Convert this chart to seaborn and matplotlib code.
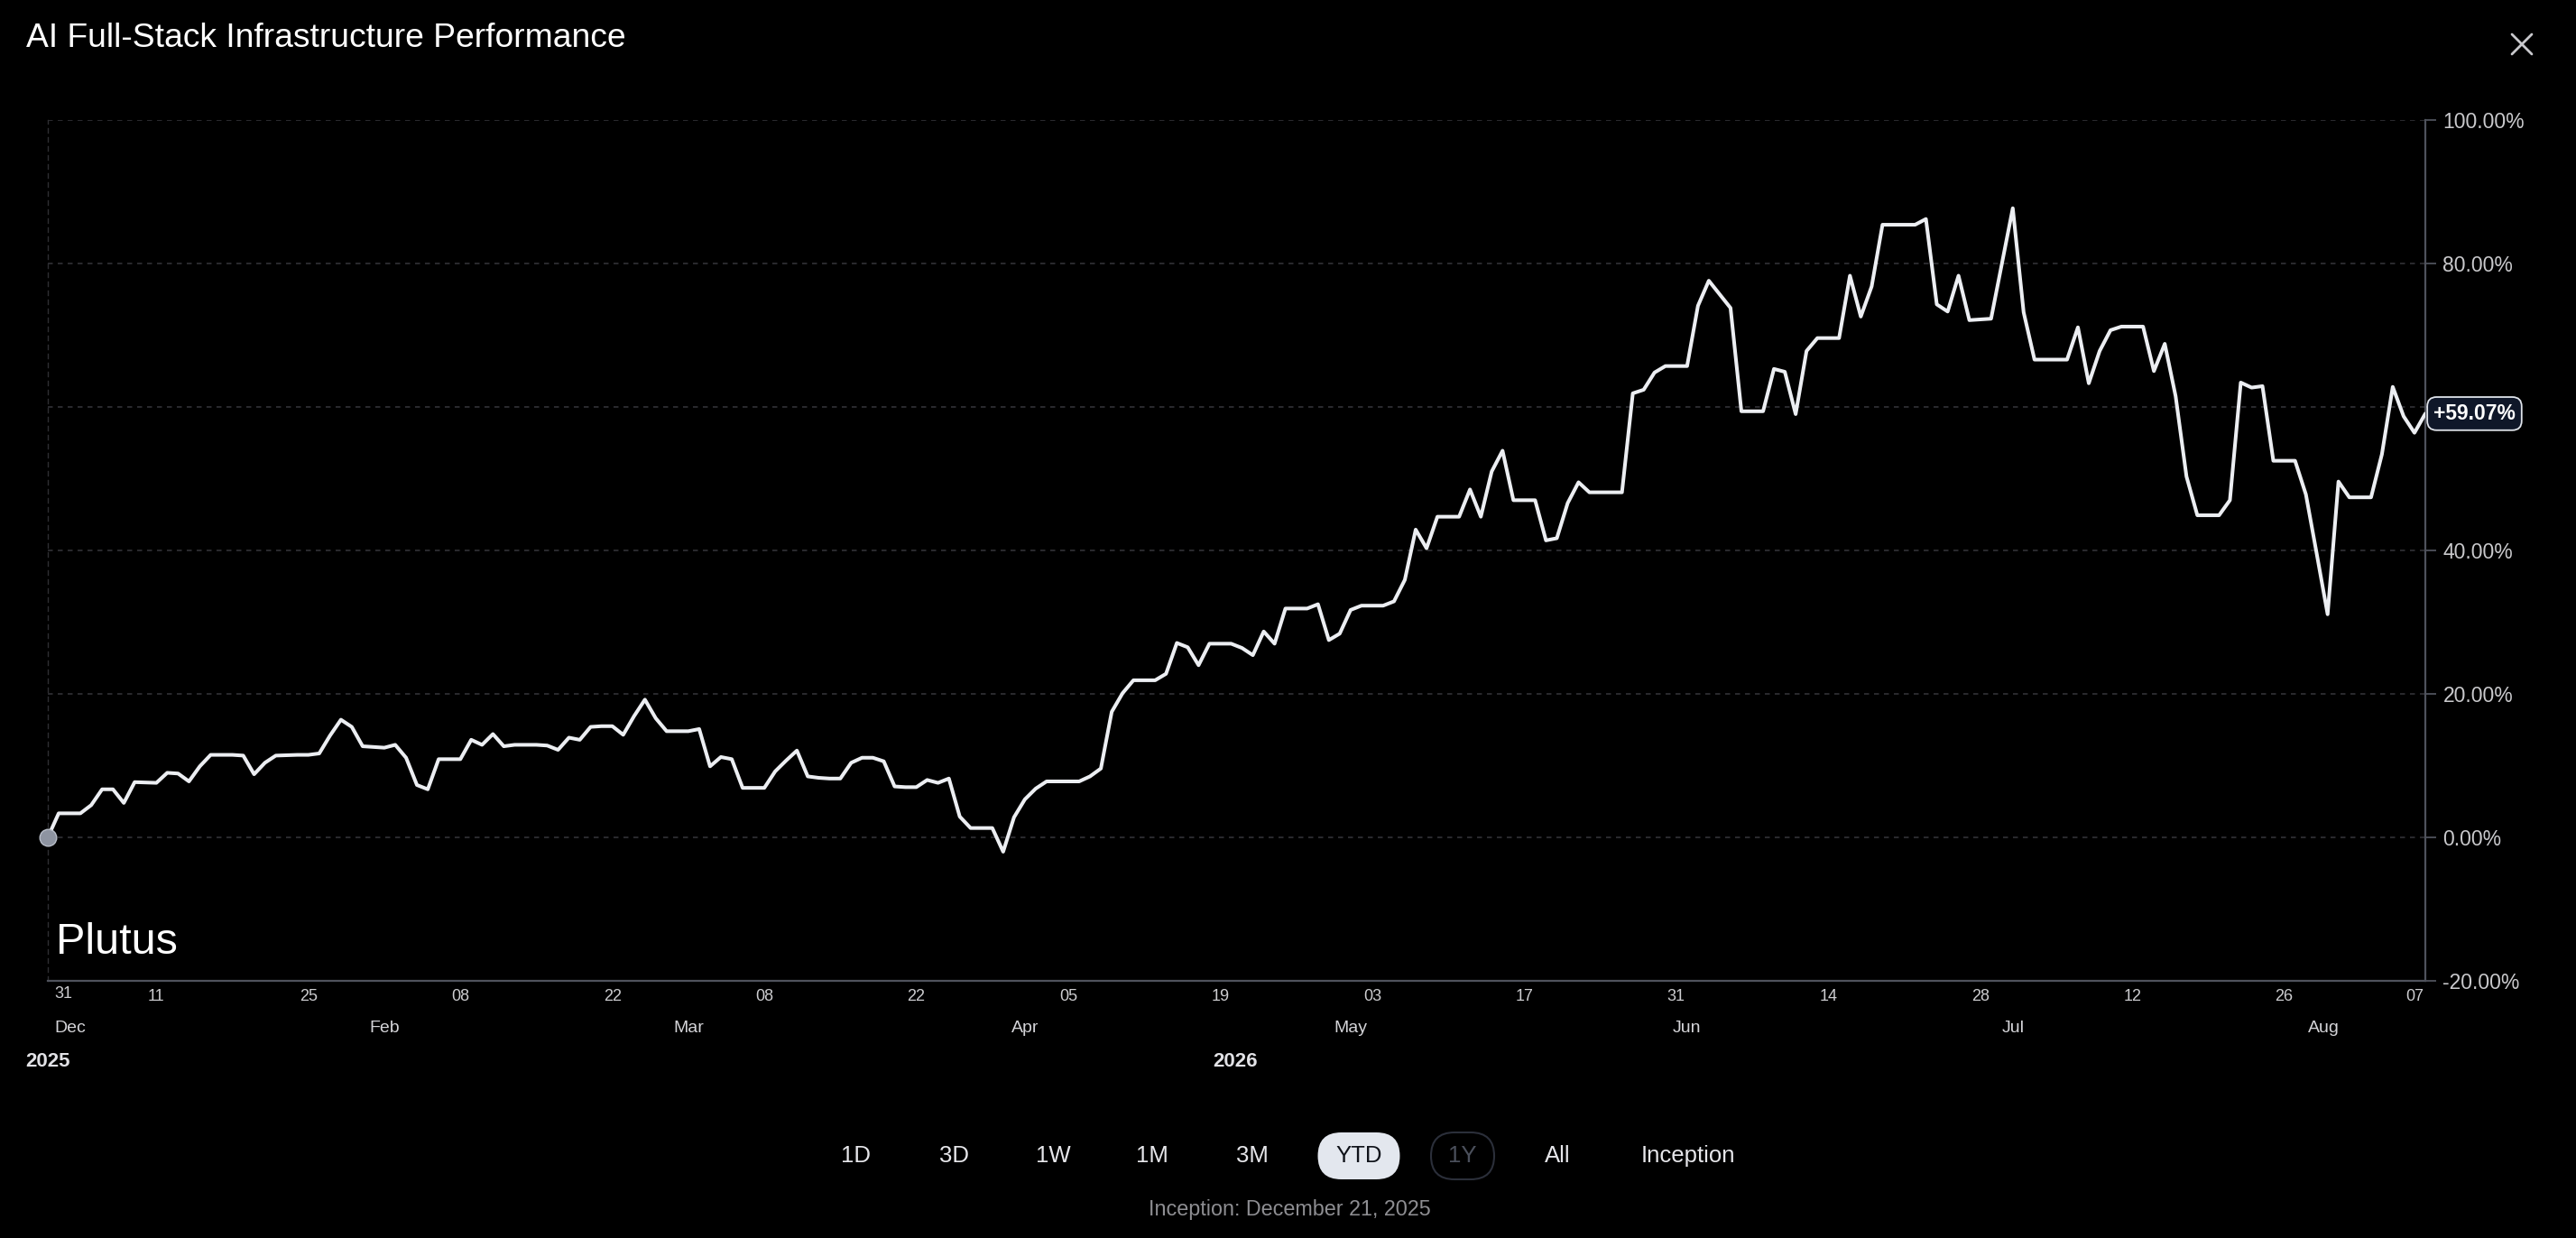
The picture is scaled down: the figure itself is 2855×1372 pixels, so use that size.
import numpy as np
import pandas as pd
import matplotlib
matplotlib.use("Agg")
import matplotlib.pyplot as plt
from matplotlib.patches import FancyBboxPatch
from matplotlib.lines import Line2D
from matplotlib.transforms import IdentityTransform
import seaborn as sns

# ---------------- data ----------------
title = "AI Full-Stack Infrastructure Performance"
start_date = "2026-01-01"
returns_pct = [
    0.0, 3.35, 3.35, 3.35, 4.5, 6.7, 6.7, 4.8, 7.7, 7.65,
    7.6, 9.0, 8.9, 7.8, 9.9, 11.5, 11.5, 11.5, 11.4, 8.8,
    10.4, 11.4, 11.45, 11.5, 11.5, 11.7, 14.2, 16.4, 15.4, 12.7,
    12.6, 12.5, 12.9, 11.1, 7.3, 6.7, 10.9, 10.9, 10.9, 13.6,
    12.9, 14.4, 12.7, 12.9, 12.9, 12.9, 12.8, 12.2, 13.9, 13.6,
    15.4, 15.5, 15.5, 14.3, 16.9, 19.2, 16.6, 14.8, 14.8, 14.8,
    15.1, 9.9, 11.2, 10.9, 6.9, 6.9, 6.9, 9.2, 10.7, 12.1,
    8.5, 8.3, 8.2, 8.2, 10.4, 11.1, 11.1, 10.6, 7.1, 7.0,
    7.0, 8.0, 7.6, 8.2, 2.9, 1.3, 1.3, 1.3, -2.0, 2.8,
    5.3, 6.8, 7.8, 7.8, 7.8, 7.8, 8.5, 9.6, 17.5, 20.1,
    21.9, 21.9, 21.9, 22.8, 27.1, 26.5, 24.0, 27.0, 27.0, 27.0,
    26.4, 25.4, 28.7, 27.0, 31.9, 31.9, 31.9, 32.5, 27.5, 28.4,
    31.7, 32.3, 32.3, 32.3, 32.9, 35.9, 42.9, 40.3, 44.7, 44.7,
    44.7, 48.5, 44.7, 51.0, 53.9, 47.0, 47.0, 47.0, 41.4, 41.7,
    46.6, 49.5, 48.1, 48.1, 48.1, 48.1, 61.9, 62.4, 64.8, 65.7,
    65.7, 65.7, 74.1, 77.6, 75.7, 73.8, 59.4, 59.4, 59.4, 65.3,
    64.9, 59.0, 67.8, 69.6, 69.6, 69.6, 78.3, 72.6, 76.8, 85.4,
    85.4, 85.4, 85.4, 86.2, 74.3, 73.3, 78.3, 72.1, 72.2, 72.3,
    80.0, 87.7, 73.2, 66.6, 66.6, 66.6, 66.6, 71.1, 63.3, 67.8,
    70.7, 71.2, 71.2, 71.2, 65.0, 68.8, 61.5, 50.3, 44.9, 44.9,
    44.9, 47.0, 63.4, 62.7, 62.9, 52.5, 52.5, 52.5, 47.8, 39.5,
    31.1, 49.6, 47.4, 47.4, 47.4, 53.4, 62.8, 58.7, 56.4, 59.07,
]
y_ticks = [-20, 0, 20, 40, 60, 80, 100]
hidden_y_tick = 60          # covered by the last-value badge in the original
day_tick_dates = ["2026-01-11", "2026-01-25", "2026-02-08", "2026-02-22",
                  "2026-03-08", "2026-03-22", "2026-04-05", "2026-04-19",
                  "2026-05-03", "2026-05-17", "2026-05-31", "2026-06-14",
                  "2026-06-28", "2026-07-12", "2026-07-26", "2026-08-07"]
day_tick_labels = ["11", "25", "08", "22", "08", "22", "05", "19",
                   "03", "17", "31", "14", "28", "12", "26", "07"]
first_day_label = "31"
first_month_label = "Dec"
month_dates = ["2026-02-01 00:00", "2026-03-01 00:00", "2026-04-01 00:00",
               "2026-05-01 00:00", "2026-06-01 00:00", "2026-07-01 00:00",
               "2026-07-29 15:00"]
month_labels = ["Feb", "Mar", "Apr", "May", "Jun", "Jul", "Aug"]
year_labels = ["2025", "2026"]
year2_date = "2026-04-20 10:00"
range_buttons = ["1D", "3D", "1W", "1M", "3M", "YTD", "1Y", "All", "Inception"]
active_button = "YTD"
disabled_button = "1Y"
last_value_label = "+59.07%"
footer = "Inception: December 21, 2025"
watermark = "Plutus"

# ---------------- style ----------------
W, H = 2855, 1372
sns.set_theme(style="dark", rc={"axes.facecolor": "black", "figure.facecolor": "black"})
plt.rcParams['font.family'] = ['Liberation Sans', 'DejaVu Sans']

fig = plt.figure(figsize=(W / 100, H / 100), dpi=100)
fig.patch.set_facecolor('black')
L, R, T, B = 53, 2688, 133, 1087
ax = fig.add_axes([L / W, 1 - B / H, (R - L) / W, (B - T) / H])
ax.set_facecolor('black')

df = pd.DataFrame({
    'date': pd.date_range(start_date, periods=len(returns_pct), freq='D'),
    'ret': returns_pct,
})

sns.lineplot(data=df, x='date', y='ret', ax=ax, color='#eceef2',
             linewidth=2.9, zorder=4)
ax.scatter([df['date'].iloc[0]], [df['ret'].iloc[0]], s=180, color='#8e94a1',
           edgecolors='#b9bec8', linewidths=1, zorder=6, clip_on=False)

ax.set_xlim(df['date'].iloc[0], df['date'].iloc[-1])
ax.set_ylim(y_ticks[0], y_ticks[-1])
ax.set_xlabel('')
ax.set_ylabel('')

# y axis on the right
ax.yaxis.tick_right()
ax.set_yticks(y_ticks)
ax.set_yticklabels(["" if v == hidden_y_tick else f"{v:.2f}%" for v in y_ticks])
ax.tick_params(axis='y', which='both', left=False, right=True, length=8.5,
               width=1.3, color='#4f525c', pad=5.5, labelsize=16.5,
               labelcolor='#c9c9cc')

# x ticks (day numbers)
ax.set_xticks(pd.to_datetime(day_tick_dates, format='ISO8601'))
ax.set_xticklabels(day_tick_labels)
ax.tick_params(axis='x', length=0, pad=6.5, labelsize=13, labelcolor='#cdcdd0')

ax.grid(False)
ax.grid(axis='y', color='#36363b', linestyle=(0, (3.6, 3.6)), linewidth=1.1)

ax.spines['top'].set_visible(False)
ax.spines['left'].set_visible(True)
ax.spines['left'].set_linestyle((0, (3.6, 3.6)))
ax.spines['left'].set_color('#2e2e33')
ax.spines['left'].set_linewidth(1.0)
for s in ['right', 'bottom']:
    ax.spines[s].set_visible(True)
    ax.spines[s].set_color('#4f525c')
    ax.spines[s].set_linewidth(1.6)

xt = ax.get_xaxis_transform()
# first day + month label at the left edge
ax.text(7 / (R - L), -0.0155, first_day_label, transform=ax.transAxes,
        ha='left', va='center', fontsize=13, color='#cdcdd0')
ax.text(7 / (R - L), -0.0555, first_month_label, transform=ax.transAxes,
        ha='left', va='center', fontsize=14, color='#d4d4d8')
for d, lab in zip(pd.to_datetime(month_dates, format='ISO8601'), month_labels):
    ax.text(d, -0.0555, lab, transform=xt, ha='center', va='center',
            fontsize=14, color='#d4d4d8')
ax.text(0, -0.094, year_labels[0], transform=ax.transAxes, ha='center',
        va='center', fontsize=16, fontweight='bold', color='#e2e2e6')
ax.text(pd.Timestamp(year2_date), -0.094, year_labels[1], transform=xt,
        ha='center', va='center', fontsize=16, fontweight='bold', color='#e2e2e6')

# last value badge
ax.annotate(last_value_label, xy=(df['date'].iloc[-1], df['ret'].iloc[-1]),
            xytext=(6.5, 0), textcoords='offset points', ha='left', va='center',
            fontsize=16.5, fontweight='bold', color='white', zorder=7,
            annotation_clip=False,
            bbox=dict(boxstyle='round,pad=0.3,rounding_size=0.45',
                      fc='#0f1729', ec='#dfe3ea', lw=1.3))

# title, watermark, close icon
fig.text(29 / W, 1 - 52 / H, title, fontsize=26.8, color='white',
         ha='left', va='baseline')
fig.text(62 / W, 1 - 1057 / H, watermark, fontsize=35, color='white',
         ha='left', va='baseline')
cx, cy, hs = 2795, H - 49, 11
for dx in (1, -1):
    fig.add_artist(Line2D([cx - hs, cx + hs], [cy - dx * hs, cy + dx * hs],
                          transform=IdentityTransform(), color='#c8c8cc',
                          linewidth=2.0))

# range buttons
btn_x = [949, 1057, 1167, 1277, 1388, 1506, 1621, 1726, 1871]
btn_y = H - 1281
for bx, lab in zip(btn_x, range_buttons):
    color = '#e6e6ea'
    if lab == active_button:
        fig.add_artist(FancyBboxPatch((bx - 45.5, btn_y - 26), 91, 52,
                                      boxstyle='round,pad=0,rounding_size=26',
                                      transform=IdentityTransform(),
                                      fc='#e3e7ee', ec='none'))
        color = '#10131a'
    elif lab == disabled_button:
        fig.add_artist(FancyBboxPatch((bx - 35, btn_y - 26), 70, 52,
                                      boxstyle='round,pad=0,rounding_size=26',
                                      transform=IdentityTransform(),
                                      fc='none', ec='#2b2f3a', lw=1.5))
        color = '#4b505c'
    fig.text(bx / W, btn_y / H, lab, ha='center', va='center',
             fontsize=18.5, color=color)

fig.text(1429 / W, 1 - 1340 / H, footer, ha='center', va='center',
         fontsize=16.8, color='#8e8e92')

fig.savefig('out.png', dpi=100, facecolor='black')
